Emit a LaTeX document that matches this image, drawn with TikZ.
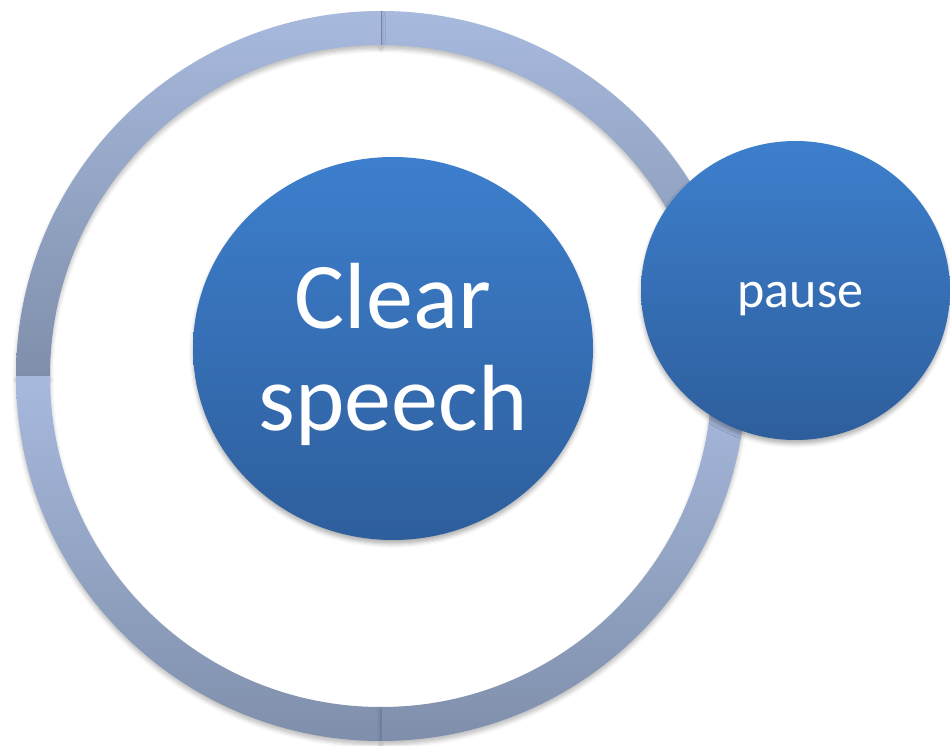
\documentclass[tikz,border=0pt]{standalone}
\usepackage{fontspec}
\setmainfont{Carlito}
\usepackage{xcolor}
\usepackage{tikz}
\usetikzlibrary{shapes,shadows.blur}

\definecolor{ringlight}{HTML}{A7B9DD}
\definecolor{ringdark}{HTML}{7F8FAB}
\definecolor{hubtop}{HTML}{3D7FCD}
\definecolor{hubbottom}{HTML}{2E5E9C}

\begin{document}
\begin{tikzpicture}[x=1pt,y=1pt]
      \tikzstyle{quarter}=[top color=ringlight, bottom color=ringdark,
        blur shadow={shadow xshift=0pt, shadow yshift=-4pt, shadow blur radius=4pt, shadow opacity=25}]
      \tikzstyle{seam}=[draw=ringdark!80!black, line width=0.8pt, opacity=0.6]
      \tikzstyle{hub}=[ellipse, top color=hubtop, bottom color=hubbottom, inner sep=0pt,
        blur shadow={shadow xshift=0pt, shadow yshift=-4pt, shadow blur radius=4pt, shadow opacity=30}]
      \tikzstyle{hub_text}=[text=white, align=center, inner sep=0pt]

      \useasboundingbox (0,0) rectangle (950,745);
      \coordinate (ring) at (381,369);

      % outer ring, four quarters
      \foreach \a in {0,90,180,270}
        \shade [quarter] (ring) ++(\a:365) arc [start angle=\a, end angle=\a+90, radius=365]
          -- ++(\a+90:-34) arc [start angle=\a+90, end angle=\a, radius=331] -- cycle;
      \draw [seam] (ring) ++(90:331) -- ++(90:34);
      \draw [seam] (ring) ++(270:331) -- ++(270:34);

      \node [hub, minimum width=400pt, minimum height=383pt] (speech) at (393,396.5) {};
      \node [hub_text, font=\fontsize{94}{102}\selectfont] at ([yshift=-6pt]speech.center) {Clear\\speech};

      \node [hub, minimum width=309pt, minimum height=299pt] (pause) at (795.5,454.5) {};
      \node [hub_text, font=\fontsize{52}{62}\selectfont] at ([xshift=5pt,yshift=-9pt]pause.center) {pause};
\end{tikzpicture}
\end{document}
